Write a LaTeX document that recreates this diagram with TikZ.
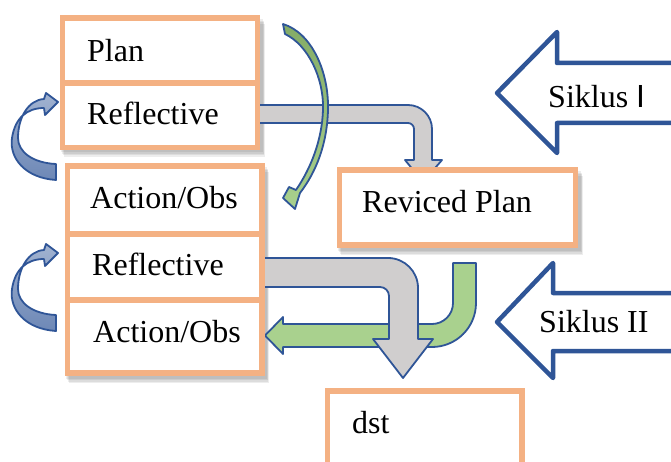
\documentclass[tikz,border=0pt]{standalone}
\usepackage{fontspec}
\setmainfont{Liberation Serif}
\newfontfamily\sansI{Liberation Sans}
\definecolor{boxor}{HTML}{F4B183}
\definecolor{obl}{HTML}{2F5597}
\definecolor{ogray}{HTML}{D0CECE}
\definecolor{ogreen}{HTML}{A9D18E}
\definecolor{dgreen}{HTML}{84AC66}
\tikzset{
  obox/.style={draw=boxor, line width=5.5pt, fill=white, rectangle, inner sep=0pt},
  lbl/.style={anchor=base west, inner sep=0pt, font=\fontsize{32}{32}\selectfont},
  barrow/.style={draw=obl, line width=1.8pt, line join=round},
  sik/.style={draw=obl, line width=4.5pt, fill=white, line join=round},
  shd/.style={fill=black, opacity=0.07},
}
\begin{document}
\begin{tikzpicture}[x=1pt,y=-1pt]
\useasboundingbox (0,0) rectangle (671,462);
\clip (0,0) rectangle (671,462);
% shadows
\foreach \d in {1,2,3,4}{
  \fill[shd] (60+\d,18+\d*1.5) rectangle (262+\d*0.8,151+\d*1.5);
  \fill[shd] (65+\d,166+\d*1.5) rectangle (266+\d*0.8,377+\d*1.5);
  \fill[shd] (337+\d,170+\d*1.5) rectangle (580+\d*0.8,249+\d*1.5);
}
% green bent arrow
\draw[barrow, fill=ogreen] (453,263) -- (476,263) -- (476,303) .. controls (476,327.3) and (456.3,347) .. (432,347) -- (283,347) -- (283,354) -- (265,335.5) -- (283,317) -- (283,324) -- (432,324) .. controls (443.6,324) and (453,314.6) .. (453,303) -- cycle;
% gray bent arrows
\draw[barrow, fill=ogray] (250,105) -- (408,105) .. controls (421.25,105) and (432,115.75) .. (432,129) -- (432,160) -- (442,160) -- (423,182) -- (405,160) -- (414,160) -- (414,129) .. controls (414,125.7) and (411.3,123) .. (408,123) -- (250,123) -- cycle;
\draw[barrow, fill=ogray] (255,258) -- (388,258) .. controls (404.6,258) and (418,271.4) .. (418,288) -- (418,339) -- (433,339) -- (403,378) -- (373,339) -- (389,339) -- (389,296) .. controls (389,291) and (385,287) .. (380,287) -- (255,287) -- cycle;
% boxes
\node[obox, minimum width=195pt, minimum height=65pt] (plan) at (160,50.5) {};
\node[obox, minimum width=195pt, minimum height=64.5pt] (refl1) at (160,115.25) {};
\node[obox, minimum width=194.5pt, minimum height=68pt] (act1) at (164.75,200) {};
\node[obox, minimum width=194.5pt, minimum height=66pt] (refl2) at (164.75,267) {};
\node[obox, minimum width=194.5pt, minimum height=73pt] (act2) at (164.75,336.5) {};
\node[obox, minimum width=236pt, minimum height=75pt] (rev) at (457.5,207.5) {};
\node[obox, minimum width=194.5pt, minimum height=84pt] (dst) at (424.75,433) {};
% curved green arrow
\draw[draw=obl, line width=1.8pt, line join=round, top color=dgreen, bottom color=ogreen]
  (283,24) .. controls (312,33) and (329,72) .. (328,110) .. controls (327,145) and (316,172) .. (300,193) -- (295,209) -- (283,198) -- (289,187) -- (296,190) .. controls (311,168) and (322,140) .. (323,110) .. controls (324,78) and (308,45) .. (285,34) -- cycle;
% blue curved arrows
\foreach \s in {0,151}{
\draw[draw=obl, line width=1.8pt, line join=round, top color=obl!45!white, bottom color=obl!70!white, yshift=-\s pt]
  (56,180) .. controls (25,178) and (9,158) .. (12,138) .. controls (15,118) and (27,108) .. (44,108) -- (45,115) -- (58,102) -- (46,93) -- (44,99) .. controls (28,100) and (18,118) .. (18,138) .. controls (18,152) and (33,163) .. (56,164) -- cycle;
}
% Siklus arrows
\draw[sik] (497,93) -- (557,32) -- (557,63) -- (690,63) -- (690,123) -- (557,123) -- (557,153) -- cycle;
\draw[sik] (497,322) -- (553,263) -- (553,293) -- (690,293) -- (690,351) -- (553,351) -- (553,378) -- cycle;
% texts
\node[lbl] (tplan) at (87,62) {Plan};
\node[lbl] (trefl1) at (87,125) {Reflective};
\node[lbl] (tact1) at (90,208) {Action/Obs};
\node[lbl] (trefl2) at (92,275) {Reflective};
\node[lbl] (tact2) at (93,342) {Action/Obs};
\node[lbl] (trev) at (362,213) {Reviced Plan};
\node[lbl] (tdst) at (352,433) {dst};
\node[lbl] (tsik1) at (548,108) {Siklus {\sansI I}};
\node[lbl] (tsik2) at (539,332) {Siklus II};
\end{tikzpicture}
\end{document}
